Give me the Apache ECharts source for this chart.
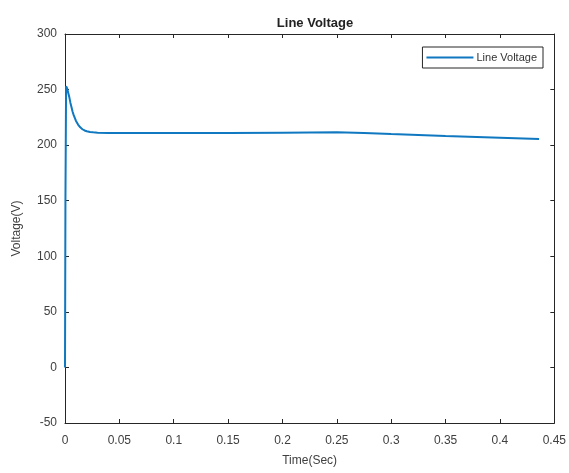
<!DOCTYPE html>
<html>
<head>
<meta charset="utf-8">
<script src="https://cdn.jsdelivr.net/npm/echarts@6/dist/echarts.min.js"></script>
<style>
  html, body { margin: 0; padding: 0; background: #fff; }
  #chart { width: 569px; height: 473px; }
</style>
</head>
<body>
<div id="chart"></div>
<script>
// Line voltage response over time
const timeSec = [0, 0.0004, 0.001, 0.002, 0.003, 0.004, 0.005, 0.006, 0.007, 0.008, 0.010, 0.012, 0.014, 0.016, 0.018, 0.020, 0.023, 0.026, 0.030, 0.040, 0.050, 0.100, 0.150, 0.200, 0.250, 0.275, 0.300, 0.350, 0.400, 0.436];
const voltage = [0, 150, 253, 251, 247, 243, 238, 234, 230, 227, 222, 218.5, 216, 214.3, 213.2, 212.5, 211.9, 211.5, 211.2, 211, 211, 211, 211, 211.2, 211.5, 211, 210, 208.3, 206.7, 205.5];
const xTicks = [0, 0.45, 0.05];   // min, max, step
const yTicks = [-50, 300, 50];

const seriesData = timeSec.map((t, i) => [t, voltage[i]]);

const axisColor = '#262626';
const labelColor = '#404040';
const font = 'Liberation Sans, Arial, sans-serif';

const boxAxis = {
  axisLine: { show: true, onZero: false, lineStyle: { color: axisColor, width: 1 } },
  axisTick: { show: true, inside: true, length: 4, lineStyle: { color: axisColor } },
  splitLine: { show: false }
};

const chart = echarts.init(document.getElementById('chart'));
chart.setOption({
  animation: false,
  backgroundColor: '#ffffff',
  title: {
    text: 'Line Voltage',
    left: 310, top: 12, textAlign: 'center',
    textStyle: { fontFamily: font, fontSize: 13, fontWeight: 'bold', color: '#222' }
  },
  legend: {
    right: 26, top: 47,
    padding: [5, 6, 5, 4],
    itemWidth: 47, itemHeight: 2, itemGap: 0,
    icon: 'rect',
    borderColor: axisColor, borderWidth: 1,
    backgroundColor: '#fff',
    textStyle: { fontFamily: font, fontSize: 11, color: '#333', padding: [0, 0, 0, -2] },
    data: ['Line Voltage']
  },
  grid: { left: 65, top: 34, right: 14, bottom: 50 },
  xAxis: [Object.assign({
    type: 'value', min: xTicks[0], max: xTicks[1], interval: xTicks[2],
    name: 'Time(Sec)', nameLocation: 'middle', nameGap: 32,
    nameTextStyle: { fontFamily: font, fontSize: 12, color: labelColor },
    axisLabel: { fontFamily: font, fontSize: 12, color: labelColor, margin: 12 }
  }, boxAxis), Object.assign({
    type: 'value', position: 'top', min: xTicks[0], max: xTicks[1], interval: xTicks[2],
    axisLabel: { show: false }
  }, boxAxis)],
  yAxis: [Object.assign({
    type: 'value', min: yTicks[0], max: yTicks[1], interval: yTicks[2],
    name: 'Voltage(V)', nameLocation: 'middle', nameGap: 42,
    nameTextStyle: { fontFamily: font, fontSize: 12, color: labelColor },
    axisLabel: { fontFamily: font, fontSize: 12, color: labelColor, margin: 8 }
  }, boxAxis), Object.assign({
    type: 'value', position: 'right', min: yTicks[0], max: yTicks[1], interval: yTicks[2],
    axisLabel: { show: false }
  }, boxAxis)],
  series: [{
    name: 'Line Voltage',
    type: 'line',
    data: seriesData,
    showSymbol: false,
    smooth: false,
    color: '#0f78c0',
    lineStyle: { width: 2, color: '#0f78c0' }
  }]
});
</script>
</body>
</html>
